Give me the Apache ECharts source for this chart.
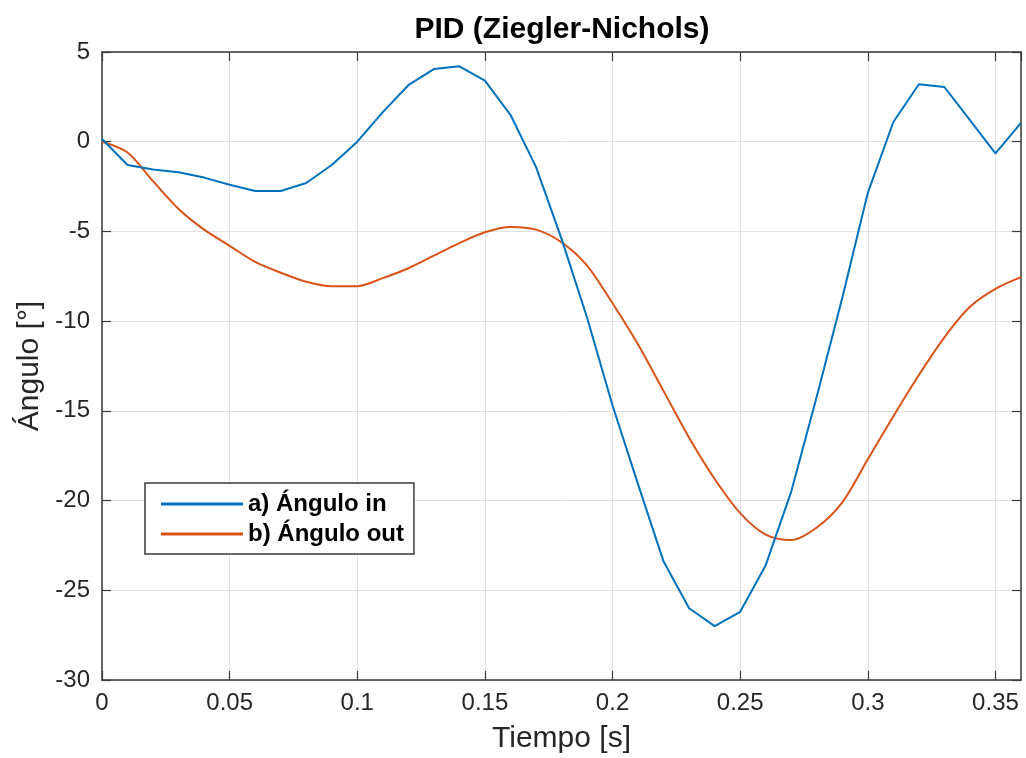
<!DOCTYPE html>
<html>
<head>
<meta charset="utf-8">
<script src="https://cdn.jsdelivr.net/npm/echarts@6/dist/echarts.min.js"></script>
<style>
html,body{margin:0;padding:0;background:#fff;}
#c{width:1026px;height:758px;}
</style>
</head>
<body>
<div id="c"></div>
<script>
var time = [0,0.01,0.02,0.03,0.04,0.05,0.06,0.07,0.08,0.09,0.10,0.11,0.12,0.13,0.14,0.15,0.16,0.17,0.18,0.19,0.20,0.21,0.22,0.23,0.24,0.25,0.26,0.27,0.28,0.29,0.30,0.31,0.32,0.33,0.34,0.35,0.36];
var anguloIn = [0.15,-1.3,-1.55,-1.7,-2.0,-2.4,-2.75,-2.75,-2.3,-1.3,0.0,1.65,3.15,4.05,4.2,3.4,1.5,-1.4,-5.4,-9.8,-14.7,-19.1,-23.4,-26.0,-27.0,-26.2,-23.6,-19.5,-14.2,-8.7,-2.85,1.1,3.2,3.05,1.2,-0.65,1.05];
var anguloOut = [0,-0.6,-2.2,-3.75,-4.9,-5.8,-6.7,-7.3,-7.8,-8.05,-8.05,-7.6,-7.05,-6.35,-5.65,-5.05,-4.75,-4.9,-5.6,-6.9,-9.0,-11.3,-13.9,-16.5,-18.8,-20.7,-21.9,-22.2,-21.5,-20.1,-17.7,-15.3,-13.0,-10.9,-9.2,-8.2,-7.55];
var seriesNames = ['a) Ángulo in', 'b) Ángulo out'];

function pairs(ys){ return time.map(function(t,i){ return [t, ys[i]]; }); }

var FONT = '"Liberation Sans", Arial, Helvetica, sans-serif';
var AX = '#3a3a3a';
var chart = echarts.init(document.getElementById('c'), null, {renderer:'canvas'});
var boxAxis = {
  axisLine:{show:true, onZero:false, lineStyle:{color:AX, width:1.5}},
  axisTick:{show:true, inside:true, length:9, lineStyle:{color:AX, width:1.2}},
  axisLabel:{show:false},
  splitLine:{show:false}
};
chart.setOption({
  animation:false,
  backgroundColor:'#fff',
  title:{
    text:'PID (Ziegler-Nichols)', left:557, top:10, textAlign:'center',
    textStyle:{fontFamily:FONT, fontSize:30, fontWeight:'bold', color:'#000'}
  },
  legend:{
    orient:'vertical', left:145, top:483,
    data:seriesNames, icon:'rect', itemWidth:82, itemHeight:3, itemGap:6, itemTextGap:7,
    padding:[9,10,8,16],
    backgroundColor:'#fff', borderColor:AX, borderWidth:1.5, borderRadius:0,
    textStyle:{fontFamily:FONT, fontSize:24, fontWeight:'bold', color:'#000'}
  },
  grid:{left:102, right:5, top:52, bottom:78, containLabel:false, outerBoundsMode:'none'},
  xAxis:[{
    type:'value', min:0, max:0.36, interval:0.05,
    name:'Tiempo [s]', nameLocation:'middle', nameGap:44,
    nameTextStyle:{fontFamily:FONT, fontSize:30, color:'#262626'},
    axisLine:{show:true, onZero:false, lineStyle:{color:AX, width:1.5}},
    axisTick:{show:true, inside:true, length:9, lineStyle:{color:AX, width:1.2}},
    axisLabel:{fontFamily:FONT, fontSize:24, color:'#262626', margin:11, showMaxLabel:false},
    splitLine:{show:true, lineStyle:{color:'#e2e2e2', width:1}}
  },Object.assign({type:'value', position:'top', min:0, max:0.36, interval:0.05}, boxAxis)],
  yAxis:[{
    type:'value', min:-30, max:5, interval:5,
    name:'Ángulo [°]', nameLocation:'middle', nameGap:46,
    nameTextStyle:{fontFamily:FONT, fontSize:30, color:'#262626'},
    axisLine:{show:true, onZero:false, lineStyle:{color:AX, width:1.5}},
    axisTick:{show:true, inside:true, length:9, lineStyle:{color:AX, width:1.2}},
    axisLabel:{fontFamily:FONT, fontSize:24, color:'#262626', margin:12},
    splitLine:{show:true, lineStyle:{color:'#e2e2e2', width:1}}
  },Object.assign({type:'value', position:'right', min:-30, max:5, interval:5}, boxAxis)],
  series:[
    {name:seriesNames[0], type:'line', data:pairs(anguloIn), showSymbol:false, symbol:'none',
     lineStyle:{color:'#0072BD', width:2}, itemStyle:{color:'#0072BD'}, z:3},
    {name:seriesNames[1], type:'line', data:pairs(anguloOut), showSymbol:false, symbol:'none',
     smooth:0.3,
     lineStyle:{color:'#D95319', width:2}, itemStyle:{color:'#D95319'}, z:2}
  ]
});
</script>
</body>
</html>
